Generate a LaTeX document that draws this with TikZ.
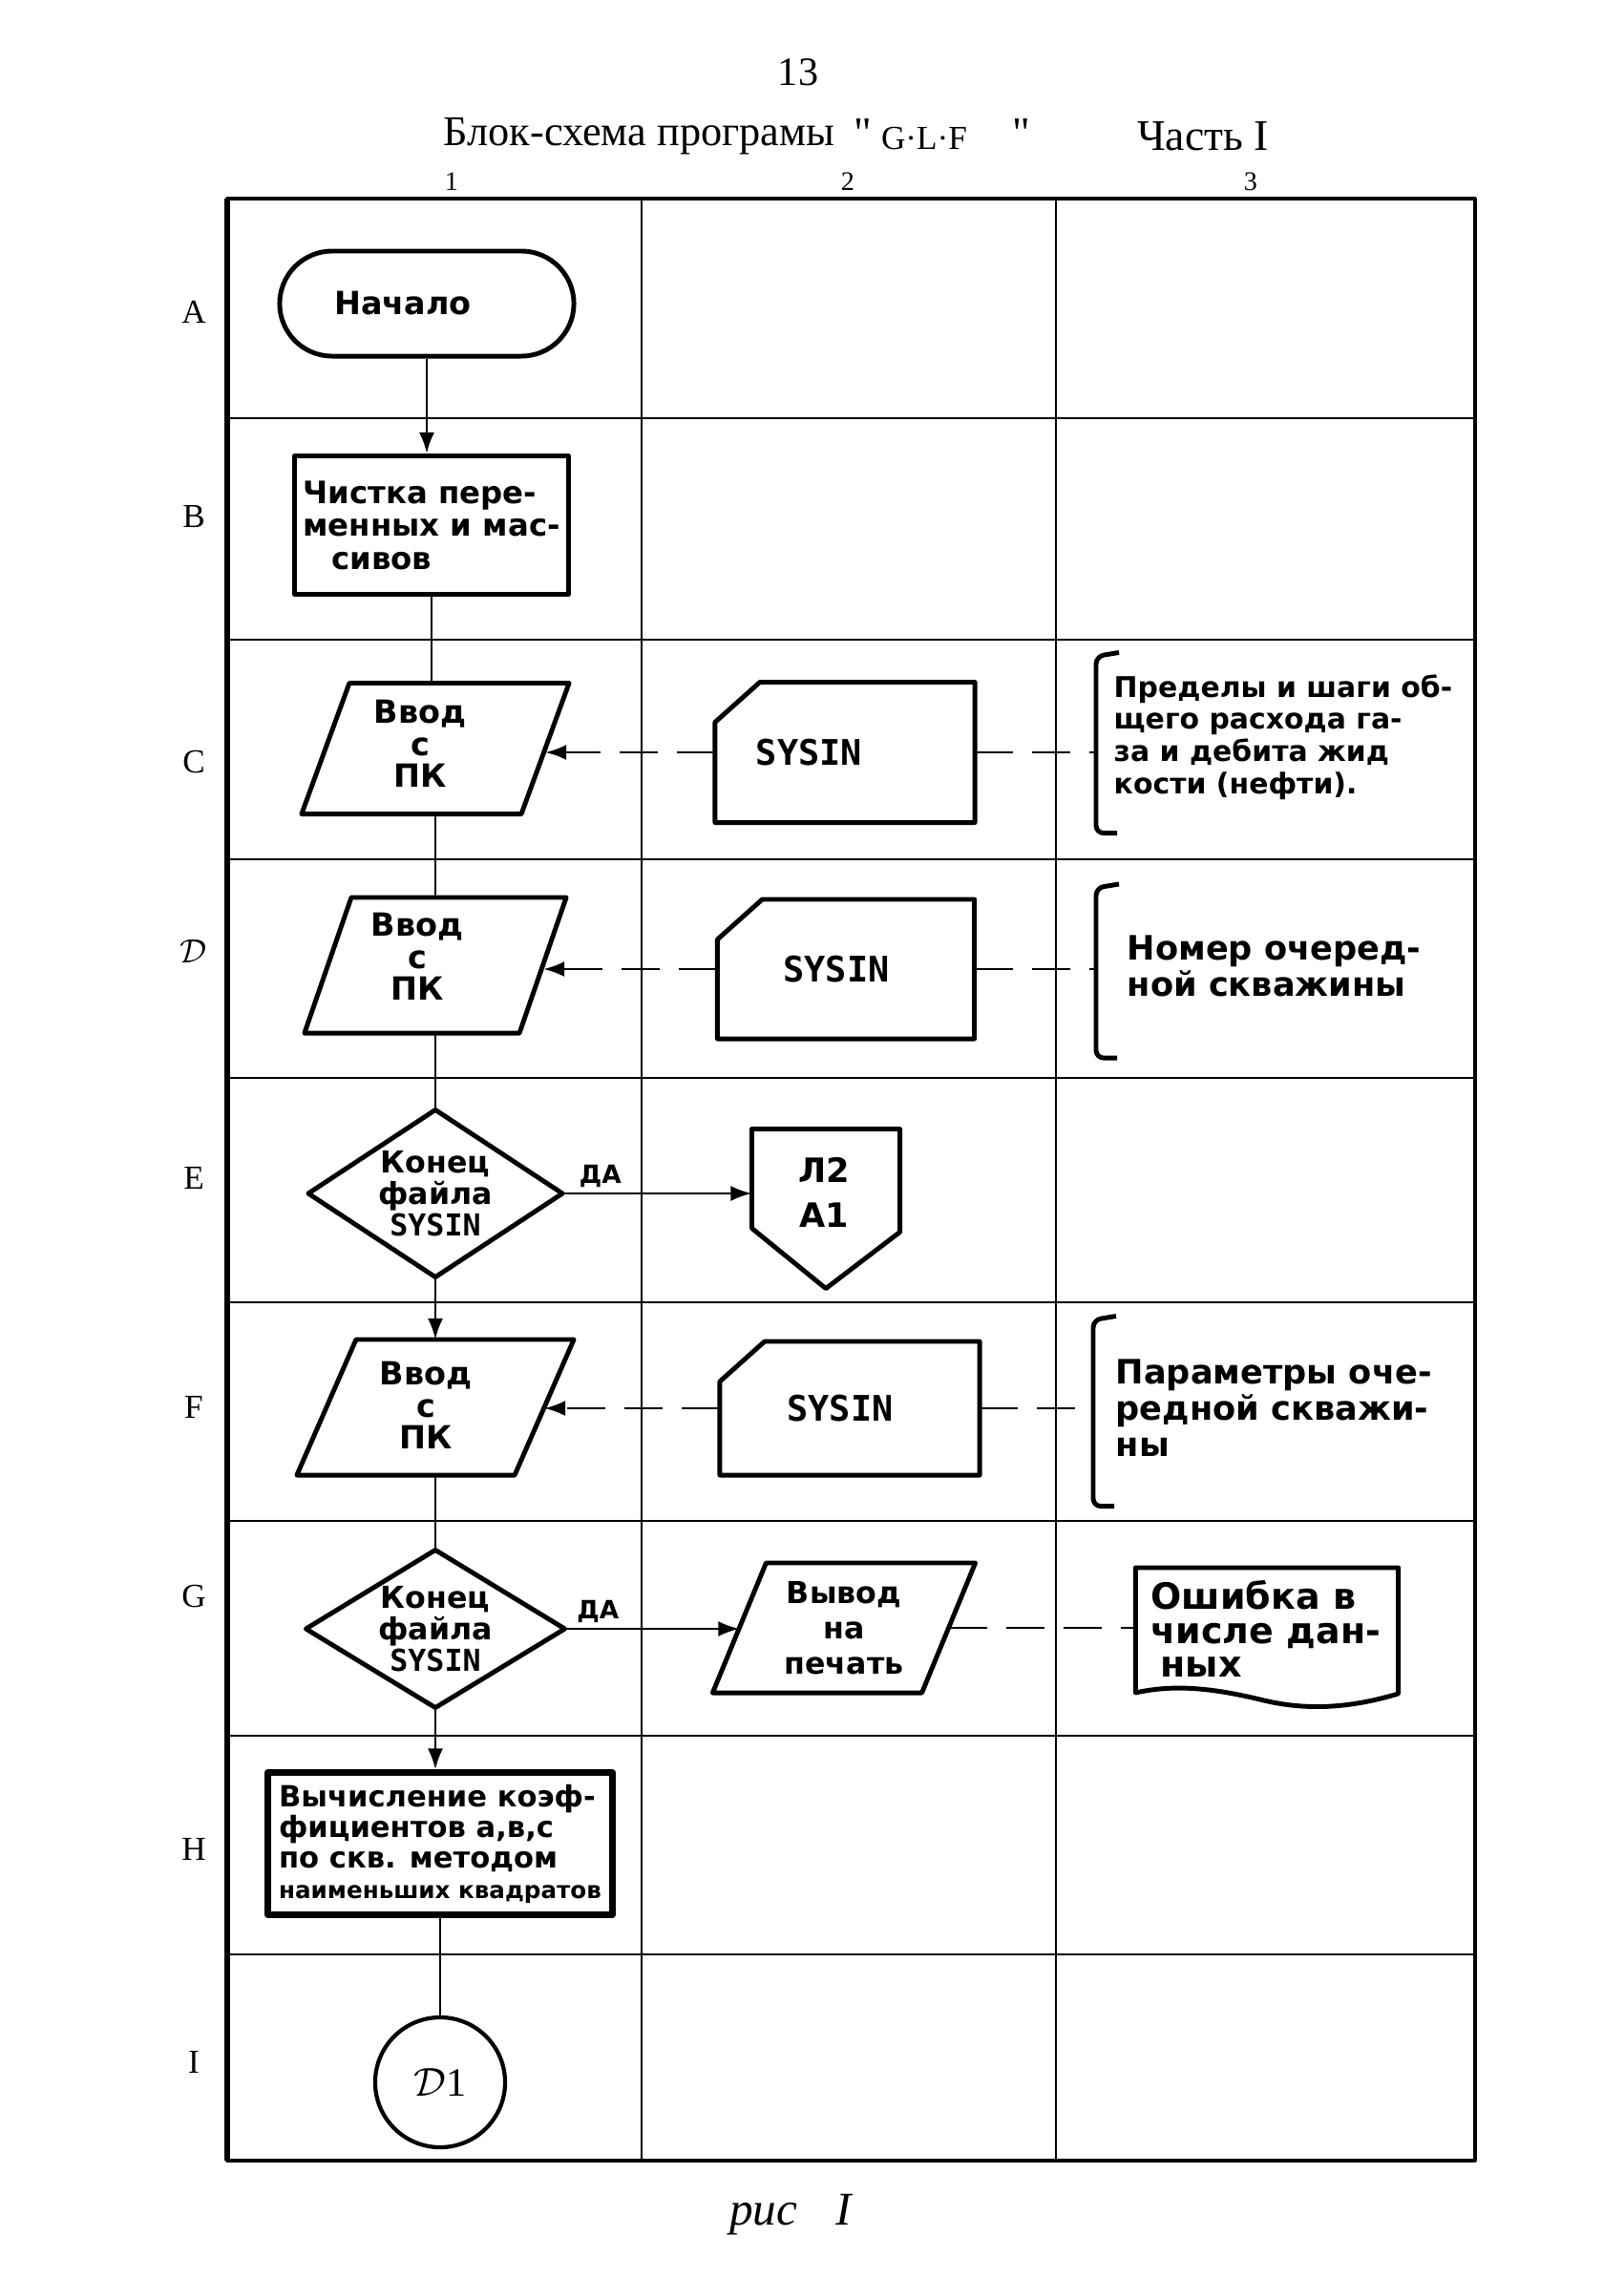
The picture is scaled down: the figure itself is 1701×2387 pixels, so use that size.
\documentclass[tikz,border=0pt]{standalone}
\usepackage{fontspec}
\setmainfont{Liberation Serif}
\newfontfamily\plainserif{Liberation Serif}
\newfontfamily\handf{DejaVu Sans}
\newfontfamily\monof{DejaVu Sans Mono}
\usetikzlibrary{arrows.meta,shapes.geometric,calc}
\newcommand\handsz[2]{\handf\bfseries\fontsize{#1}{#2}\selectfont}
\newcommand\monosz[2]{\monof\bfseries\fontsize{#1}{#2}\selectfont}
\newcommand\cardoutline[1]{\draw[shp] ($(#1.north west)+(47,0)$) -- (#1.north east) -- (#1.south east) -- (#1.south west) -- ($(#1.north west)+(0,42)$) -- cycle;}
\newcommand\paraoutline[2]{\draw[shp] ($(#1.north west)+(#2,0)$) -- (#1.north east) -- ($(#1.south east)+(-#2,0)$) -- (#1.south west) -- cycle;}
\newcommand\diamoutline[1]{\draw[shp] (#1.north) -- (#1.east) -- (#1.south) -- (#1.west) -- cycle;}
\newcommand\bracketoutline[1]{\draw[shp,rounded corners=0.08cm] ($(#1.north)+(24,-4)$) -- (#1.north) -- (#1.south) -- ($(#1.south)+(22,0)$);}
\begin{document}
\begin{tikzpicture}[x=0.01cm,y=-0.01cm,line join=round,
  gridl/.style={line width=0.7pt},
  framel/.style={line width=0.9pt},
  shp/.style={line width=1.4pt},
  conn/.style={line width=0.8pt},
  arr/.style={conn,-{Latex[length=2.2mm,width=1.6mm]}},
  dsh/.style={conn,dash pattern=on 4mm off 2mm},
  darr/.style={dsh,-{Latex[length=2.2mm,width=1.6mm]}},
  ghost/.style={inner sep=0pt,outer sep=0pt},
  ptext/.style={align=center,inner sep=0pt,font=\handsz{9.5}{9.5}},
  rowlab/.style={font=\fontsize{10}{10}\selectfont},
  collab/.style={font=\fontsize{8}{8}\selectfont},
  yeslab/.style={above,inner sep=1.5pt,font=\handsz{7.5}{8}},
  brtext/.style={anchor=west,align=left,inner sep=0pt}
]
\useasboundingbox (0,0) rectangle (1701,2387);

% ---- header ----
\node[font=\fontsize{12}{12}\selectfont] (pageno) at (836,76) {13};
\node[anchor=west,inner sep=0pt,font=\fontsize{12.6}{12.6}\selectfont] (title) at (464,143) {Блок-схема програмы};
\node[font=\plainserif\fontsize{13}{13}\selectfont] (q1) at (904,140) {"};
\node[font=\fontsize{10}{10}\selectfont] (prog) at (968,145) {G·L·F};
\node[font=\plainserif\fontsize{13}{13}\selectfont] (q2) at (1070,140) {"};
\node[font=\fontsize{13}{13}\selectfont] (part) at (1260,143) {Часть I};
\node[collab] (c1) at (473,190) {1};
\node[collab] (c2) at (888,190) {2};
\node[collab] (c3) at (1310,190) {3};

% ---- grid ----
\foreach \yy in {438,670,900,1129,1364,1593,1818,2047} \draw[gridl] (238,\yy) -- (1545,\yy);
\foreach \xx in {672,1106} \draw[gridl] (\xx,208) -- (\xx,2263);
\draw[framel] (238,208) rectangle (1545,2263);
\draw[line width=1.8pt] (238,208) -- (238,2263);

% ---- row labels ----
\node[rowlab] (rA) at (203,327) {A};
\node[rowlab] (rB) at (203,541) {B};
\node[rowlab] (rC) at (203,798) {C};
\node[rowlab] (rD) at (203,996) {$\mathcal{D}$};
\node[rowlab] (rE) at (203,1234) {E};
\node[rowlab] (rF) at (203,1474) {F};
\node[rowlab] (rG) at (203,1672) {G};
\node[rowlab] (rH) at (203,1937) {H};
\node[rowlab] (rI) at (203,2160) {I};

% ---- column 1 ----
\node[draw,shp,rounded corners=0.55cm,minimum width=3.08cm,minimum height=1.1cm,inner sep=0pt,font=\handsz{9.5}{11}] (start) at (447,318) {Начало\hspace*{0.5cm}};
\node[draw,shp,minimum width=2.87cm,minimum height=1.45cm,inner sep=0pt,align=left,font=\handsz{9.2}{9.8}] (clean) at (452,550) {Чистка пере-\\менных и мас-\\\hspace*{3mm}сивов};

\node[ghost,minimum width=2.8cm,minimum height=1.37cm] (pC) at (456,784) {};
\paraoutline{pC}{50}
\node[ptext] (pCt) at (440,779) {Ввод\\с\\ПК};
\coordinate (pCr) at ($(pC.east)+(-25,0)$);

\node[ghost,minimum width=2.74cm,minimum height=1.42cm] (pD) at (456,1011) {};
\paraoutline{pD}{49}
\node[ptext] (pDt) at (437,1002) {Ввод\\с\\ПК};
\coordinate (pDr) at ($(pD.east)+(-24,0)$);

\node[ghost,minimum width=2.66cm,minimum height=1.75cm,align=center,font=\handsz{9}{9.4}] (dE) at (456,1250) {Конец\\файла\\{\monosz{9}{9.4}SYSIN}};
\diamoutline{dE}

\node[ghost,minimum width=2.9cm,minimum height=1.42cm] (pF) at (456,1474) {};
\paraoutline{pF}{62}
\node[ptext] (pFt) at (446,1472) {Ввод\\с\\ПК};
\coordinate (pFr) at ($(pF.east)+(-31,0)$);

\node[ghost,minimum width=2.71cm,minimum height=1.65cm,align=center,font=\handsz{9}{9.4}] (dG) at (456,1706) {Конец\\файла\\{\monosz{9}{9.4}SYSIN}};
\diamoutline{dG}

\node[draw,line width=2pt,minimum width=3.61cm,minimum height=1.48cm,inner sep=0pt,align=left,font=\handsz{8.7}{9.1}] (hbox) at (461,1931) {Вычисление коэф-\\фициентов а,в,с\\по скв. методом\\{\fontsize{7}{9.1}\selectfont наименьших квадратов}};
\node[draw,line width=1.2pt,circle,minimum size=1.36cm,inner sep=0pt,font=\fontsize{12}{12}\selectfont] (con) at (461,2181) {$\mathcal{D}$1};

% ---- column 2 ----
\node[ghost,minimum width=2.72cm,minimum height=1.47cm,font=\monosz{10.5}{10.5}] (cardC) at (885,788) {SYSIN\hspace*{0.75cm}};
\cardoutline{cardC}
\node[ghost,minimum width=2.69cm,minimum height=1.46cm,font=\monosz{10.5}{10.5}] (cardD) at (886,1015) {SYSIN\hspace*{0.2cm}};
\cardoutline{cardD}
\node[ghost,minimum width=1.55cm,minimum height=1.67cm] (pentE) at (865,1266) {};
\draw[shp] (pentE.north west) -- (pentE.north east) -- ($(pentE.north east)+(0,108)$) -- (pentE.south) -- ($(pentE.north west)+(0,104)$) -- cycle;
\node[align=center,font=\handsz{10}{13.5}] (pentT) at (863,1249) {Л2\\А1};
\node[ghost,minimum width=2.72cm,minimum height=1.4cm,font=\monosz{10.5}{10.5}] (cardF) at (890,1475) {SYSIN\hspace*{0.2cm}};
\cardoutline{cardF}
\node[ghost,minimum width=2.75cm,minimum height=1.36cm,align=center,font=\handsz{9}{10.5}] (pOut) at (884,1705) {Вывод\\на\\печать};
\paraoutline{pOut}{56}
\coordinate (pOutl) at ($(pOut.west)+(28,0)$);
\coordinate (pOutr) at ($(pOut.east)+(-28,0)$);

% ---- column 3 ----
\node[ghost,minimum height=1.85cm] (bC) at (1148,780) {};
\bracketoutline{bC}
\node[brtext,font=\handsz{8.5}{9.6}] (tC) at (1166,772) {Пределы и шаги об-\\щего расхода га-\\за и дебита жид\\кости (нефти).};
\node[ghost,minimum height=1.78cm] (bD) at (1148,1019) {};
\bracketoutline{bD}
\node[brtext,font=\handsz{10}{9.2}] (tD) at (1180,1012) {Номер очеред-\\ной скважины};
\node[ghost,minimum height=1.95cm] (bF) at (1145,1480) {};
\bracketoutline{bF}
\node[brtext,font=\handsz{10}{10.8}] (tF) at (1168,1475) {Параметры оче-\\редной скважи-\\ны};
\node[ghost,minimum width=2.75cm,minimum height=1.3cm] (doc) at (1327,1707) {};
\draw[shp] (doc.north west) -- (doc.north east) -- ($(doc.north east)+(0,132)$) .. controls ($(doc.north east)+(-60,150)$) and ($(doc.north east)+(-105,148)$) .. ($(doc.north east)+(-145,138)$) .. controls ($(doc.north east)+(-195,126)$) and ($(doc.north west)+(40,122)$) .. ($(doc.north west)+(0,131)$) -- cycle;
\node[brtext,font=\handsz{10.8}{10}] (docT) at (1205,1706) {Ошибка в\\числе дан-\\\hspace*{1mm}ных};

% ---- connectors ----
\draw[arr] (start.south) -- (start.south |- clean.north);
\draw[conn] (clean.south) -- (clean.south |- pC.north);
\draw[conn] (pC.south) -- (pC.south |- pD.north);
\draw[conn] (pD.south) -- (pD.south |- dE.north);
\draw[arr] (dE.south) -- (dE.south |- pF.north);
\draw[conn] (pF.south) -- (pF.south |- dG.north);
\draw[arr] (dG.south) -- (dG.south |- hbox.north);
\draw[conn] (hbox.south) -- (hbox.south |- con.north);

\draw[arr] (dE.east) -- node[pos=0.2,yeslab] (yesE) {ДА} (dE.east -| pentE.west);
\draw[arr] (dG.east) -- node[pos=0.19,yeslab] (yesG) {ДА} (dG.east -| pOutl);

\draw[darr] (cardC.west) -- (cardC.west -| pCr);
\draw[dsh] (cardC.east) -- (cardC.east -| bC.west);
\draw[darr] (cardD.west) -- (cardD.west -| pDr);
\draw[dsh] (cardD.east) -- (cardD.east -| bD.west);
\draw[darr] (cardF.west) -- (cardF.west -| pFr);
\draw[dsh] (cardF.east) -- (cardF.east -| bF.west);
\draw[dsh] (pOutr) -- (pOutr -| doc.west);

% ---- caption ----
\node[font=\itshape\fontsize{14}{14}\selectfont] (cap) at (828,2320) {рис\hspace{4mm}I};
\end{tikzpicture}
\end{document}
